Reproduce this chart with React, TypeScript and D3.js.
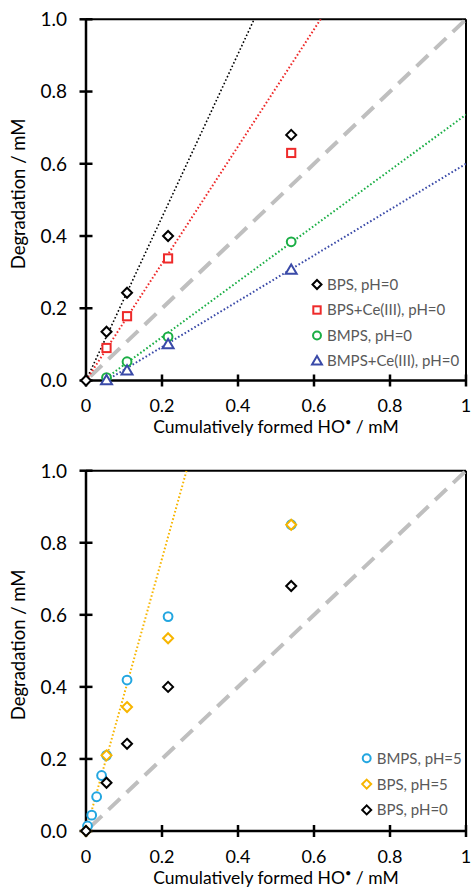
import React from "react";
import * as d3 from "d3";

// ---------- data ----------
const xTicks = [0, 0.2, 0.4, 0.6, 0.8, 1];
const yTicks = [0, 0.2, 0.4, 0.6, 0.8, 1.0];
const xTickLabels = ["0", "0.2", "0.4", "0.6", "0.8", "1"];
const yTickLabels = ["0.0", "0.2", "0.4", "0.6", "0.8", "1.0"];

// Top panel (pH = 0)
const topBpsX = [0, 0.054, 0.108, 0.216, 0.54];
const topBpsY = [0, 0.135, 0.243, 0.40, 0.68];
const topBpsCeX = [0.054, 0.108, 0.216, 0.54];
const topBpsCeY = [0.09, 0.178, 0.338, 0.63];
const topBmpsX = [0.054, 0.108, 0.216, 0.54];
const topBmpsY = [0.008, 0.052, 0.121, 0.384];
const topBmpsCeX = [0.054, 0.108, 0.216, 0.54];
const topBmpsCeY = [0.0, 0.027, 0.10, 0.306];

// trend lines: [slope, intercept, xStart]
const trendBps = [2.26, 0, 0];
const trendBpsCe = [1.62, 0, 0];
const trendBmps = [0.77, -0.034, 0.054];
const trendBmpsCe = [0.634, -0.034, 0.054];

// Bottom panel
const botBmps5X = [0.004, 0.015, 0.028, 0.041, 0.054, 0.108, 0.216, 0.54];
const botBmps5Y = [0.014, 0.044, 0.095, 0.154, 0.21, 0.419, 0.595, 0.85];
const botBps5X = [0, 0.054, 0.108, 0.216, 0.54];
const botBps5Y = [0, 0.21, 0.344, 0.535, 0.85];
const botBps0X = [0, 0.054, 0.108, 0.216, 0.54];
const botBps0Y = [0, 0.134, 0.242, 0.40, 0.68];
const trendBps5 = [3.78, 0, 0];

const topLegend = ["BPS, pH=0", "BPS+Ce(III), pH=0", "BMPS, pH=0", "BMPS+Ce(III), pH=0"];
const botLegend = ["BMPS, pH=5", "BPS, pH=5", "BPS, pH=0"];

// ---------- styles ----------
const FONT = "Lato, 'Open Sans', sans-serif";
const C_BLACK = "#000000";
const C_RED = "#ee2a2a";
const C_GREEN = "#1aae45";
const C_BLUE = "#3a4aa8";
const C_CYAN = "#23a6e0";
const C_GOLD = "#f7b500";

type Shape = "diamond" | "square" | "circle" | "triangle";

function Marker({ shape, x, y, color, size = 10, sw = 2 }: { shape: Shape; x: number; y: number; color: string; size?: number; sw?: number }) {
  const h = size / 2;
  if (shape === "diamond") {
    return <path d={`M${x},${y - h}L${x + h},${y}L${x},${y + h}L${x - h},${y}Z`} fill="white" stroke={color} strokeWidth={sw} />;
  }
  if (shape === "square") {
    const s = size * 0.82;
    return <rect x={x - s / 2} y={y - s / 2} width={s} height={s} fill="white" stroke={color} strokeWidth={sw} />;
  }
  if (shape === "circle") {
    return <circle cx={x} cy={y} r={h * 0.88} fill="white" stroke={color} strokeWidth={sw} />;
  }
  const t = size * 0.55;
  return <path d={`M${x},${y - t}L${x + t},${y + t * 0.7}L${x - t},${y + t * 0.7}Z`} fill="white" stroke={color} strokeWidth={sw} />;
}

type Series = { xs: number[]; ys: number[]; shape: Shape; color: string };
type Trend = { t: number[]; color: string; width?: number };

function Panel({ top, bottom, series, trends, legend, legendX, legendY, legendStep, id }: {
  top: number; bottom: number; series: Series[]; trends: Trend[]; legend: { label: string; shape: Shape; color: string }[];
  legendX: number; legendY: number; legendStep: number; id: string;
}) {
  const left = 86, right = 466;
  const x = d3.scaleLinear().domain([0, 1]).range([left, right]);
  const y = d3.scaleLinear().domain([0, 1]).range([bottom, top]);
  const line = d3.line<[number, number]>().x(d => x(d[0])).y(d => y(d[1]));
  return (
    <g>
      <defs>
        <clipPath id={id}>
          <rect x={left} y={top} width={right - left} height={bottom - top} />
        </clipPath>
      </defs>
      {/* frame top/right */}
      <line x1={left} x2={right} y1={top} y2={top} stroke="#000" strokeWidth={2} />
      <line x1={right} x2={right} y1={top} y2={bottom} stroke="#000" strokeWidth={2} />
      {/* y=x reference */}
      <path d={line([[0, 0], [1, 1]]) || ""} stroke="#bfbfbf" strokeWidth={4} strokeDasharray="16 9" strokeDashoffset={-6} fill="none" />
      <g clipPath={`url(#${id})`}>
        {trends.map((tr, i) => {
          const [m, b, xs] = tr.t;
          return <path key={i} d={line([[xs, m * xs + b], [1, m + b]]) || ""} stroke={tr.color} strokeWidth={tr.width ?? 2} strokeDasharray="1.6 2.2" fill="none" />;
        })}
      </g>
      {/* axes */}
      <line x1={left} x2={left} y1={top} y2={bottom} stroke="#000" strokeWidth={2.5} />
      <line x1={left} x2={right} y1={bottom} y2={bottom} stroke="#000" strokeWidth={2.5} />
      {yTicks.map((t, i) => (
        <g key={"y" + i}>
          <line x1={left - 6.5} x2={left + 6.5} y1={y(t)} y2={y(t)} stroke="#000" strokeWidth={2.5} />
          <text x={67} y={y(t)} dy="0.36em" textAnchor="end" fontFamily={FONT} fontSize={19} fill="#000">{yTickLabels[i]}</text>
        </g>
      ))}
      {xTicks.map((t, i) => (
        <g key={"x" + i}>
          <line x1={x(t)} x2={x(t)} y1={bottom - 6} y2={bottom + 6} stroke="#000" strokeWidth={2.5} />
          <text x={x(t)} y={bottom + 31.5} textAnchor="middle" fontFamily={FONT} fontSize={18} fill="#000">{xTickLabels[i]}</text>
        </g>
      ))}
      <text x={(left + right) / 2} y={bottom + 52.8} textAnchor="middle" fontFamily={FONT} fontSize={17.5} fill="#000">
        Cumulatively formed HO<tspan dy={-7} fontSize={11}>•</tspan><tspan dy={7}> / mM</tspan>
      </text>
      <text transform={`translate(25,${(top + bottom) / 2 - 6}) rotate(-90)`} textAnchor="middle" fontFamily={FONT} fontSize={18.5} fill="#000">
        Degradation / mM
      </text>
      {/* markers */}
      {series.map((s, si) => (
        <g key={"s" + si}>
          {s.xs.map((xv, i) => (
            <Marker key={i} shape={s.shape} x={x(xv)} y={y(s.ys[i])} color={s.color} />
          ))}
        </g>
      ))}
      {/* legend */}
      {legend.map((l, i) => (
        <g key={"l" + i}>
          <Marker shape={l.shape} x={legendX} y={legendY + i * legendStep} color={l.color} size={9} />
          <text x={legendX + 10} y={legendY + i * legendStep} dy="0.36em" fontFamily={FONT} fontSize={15} fill="#595959">{l.label}</text>
        </g>
      ))}
    </g>
  );
}

export default function App() {
  return (
    <svg width={471} height={888} style={{ position: "absolute", left: 0, top: 0, background: "white" }}>
      <rect width={471} height={888} fill="white" />
      <Panel
        id="clipTop"
        top={19.3}
        bottom={380.5}
        series={[
          { xs: topBpsX, ys: topBpsY, shape: "diamond", color: C_BLACK },
          { xs: topBpsCeX, ys: topBpsCeY, shape: "square", color: C_RED },
          { xs: topBmpsX, ys: topBmpsY, shape: "circle", color: C_GREEN },
          { xs: topBmpsCeX, ys: topBmpsCeY, shape: "triangle", color: C_BLUE },
        ]}
        trends={[
          { t: trendBps, color: C_BLACK, width: 1.6 },
          { t: trendBpsCe, color: C_RED },
          { t: trendBmps, color: C_GREEN },
          { t: trendBmpsCe, color: C_BLUE },
        ]}
        legend={[
          { label: topLegend[0], shape: "diamond", color: C_BLACK },
          { label: topLegend[1], shape: "square", color: C_RED },
          { label: topLegend[2], shape: "circle", color: C_GREEN },
          { label: topLegend[3], shape: "triangle", color: C_BLUE },
        ]}
        legendX={317}
        legendY={284.5}
        legendStep={25.5}
      />
      <Panel
        id="clipBot"
        top={470.7}
        bottom={831}
        series={[
          { xs: botBmps5X, ys: botBmps5Y, shape: "circle", color: C_CYAN },
          { xs: botBps5X, ys: botBps5Y, shape: "diamond", color: C_GOLD },
          { xs: botBps0X, ys: botBps0Y, shape: "diamond", color: C_BLACK },
        ]}
        trends={[{ t: trendBps5, color: C_GOLD }]}
        legend={[
          { label: botLegend[0], shape: "circle", color: C_CYAN },
          { label: botLegend[1], shape: "diamond", color: C_GOLD },
          { label: botLegend[2], shape: "diamond", color: C_BLACK },
        ]}
        legendX={366.7}
        legendY={758.3}
        legendStep={25.8}
      />
    </svg>
  );
}
